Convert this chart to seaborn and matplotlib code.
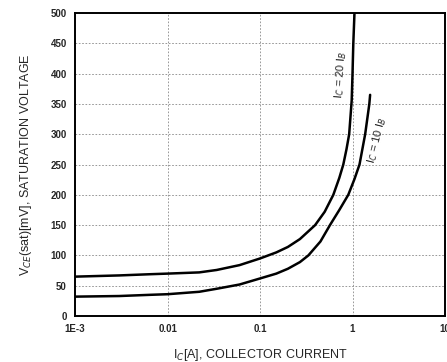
import matplotlib
matplotlib.use("Agg")
import matplotlib.pyplot as plt
import seaborn as sns
import pandas as pd

# Data
ic_20 = [0.001, 0.003, 0.0065, 0.01, 0.022, 0.034, 0.06, 0.1, 0.15, 0.2, 0.27, 0.394,
         0.5, 0.62, 0.72, 0.795, 0.86, 0.92, 0.98, 1.0, 1.02, 1.05]
vce_20 = [65, 67, 69, 70, 72, 76, 84, 95, 105, 114, 127, 150,
          172, 200, 228, 250, 275, 300, 356, 400, 450, 500]
ic_10 = [0.001, 0.003, 0.0065, 0.01, 0.022, 0.034, 0.06, 0.1, 0.15, 0.2, 0.27, 0.333,
         0.45, 0.57, 0.72, 0.9, 1.05, 1.19, 1.37, 1.52, 1.55]
vce_10 = [32, 33, 35, 36, 40, 45, 52, 62, 70, 78, 89, 100,
          123, 150, 175, 200, 226, 250, 300, 350, 365]
x_ticks = [1e-3, 0.01, 0.1, 1, 10]
x_tick_labels = ["1E-3", "0.01", "0.1", "1", "10"]
y_ticks = [0, 50, 100, 150, 200, 250, 300, 350, 400, 450, 500]

df = pd.DataFrame({
    "ic": ic_20 + ic_10,
    "vce": vce_20 + vce_10,
    "curve": ["20"] * len(ic_20) + ["10"] * len(ic_10),
})

sns.set_style("white")
plt.rcParams["font.family"] = ["Liberation Sans", "DejaVu Sans"]

fig = plt.figure(figsize=(4.47, 3.62), dpi=100)
ax = fig.add_axes([0.168, 0.127, 0.8275, 0.837])

sns.lineplot(data=df, x="ic", y="vce", hue="curve", palette={"20": "black", "10": "black"},
             linewidth=1.8, legend=False, ax=ax, estimator=None, sort=False)

ax.set_xscale("log")
ax.set_xlim(1e-3, 10)
ax.set_ylim(0, 500)
ax.set_xticks(x_ticks)
ax.set_xticklabels(x_tick_labels, fontweight="bold", fontsize=7)
ax.set_yticks(y_ticks)
ax.set_yticklabels([str(v) for v in y_ticks], fontweight="bold", fontsize=7)
ax.minorticks_off()
ax.tick_params(length=0, pad=6)

ax.grid(True, which="major", linestyle=(0, (2, 2)), color="#888888", linewidth=0.6)
for s in ax.spines.values():
    s.set_color("black")
    s.set_linewidth(1.4)

ax.set_xlabel(r"I$_C$[A], COLLECTOR CURRENT", fontsize=9, labelpad=9)
ax.set_ylabel(r"V$_{CE}$(sat)[mV], SATURATION VOLTAGE", fontsize=9, labelpad=12)

ax.text(0.74, 398, r"I$_C$ = 20 I$_B$", rotation=86, fontsize=8, ha="center", va="center")
ax.text(1.85, 290, r"I$_C$ = 10 I$_B$", rotation=76, fontsize=8, ha="center", va="center")

fig.savefig("out.png", dpi=100)
